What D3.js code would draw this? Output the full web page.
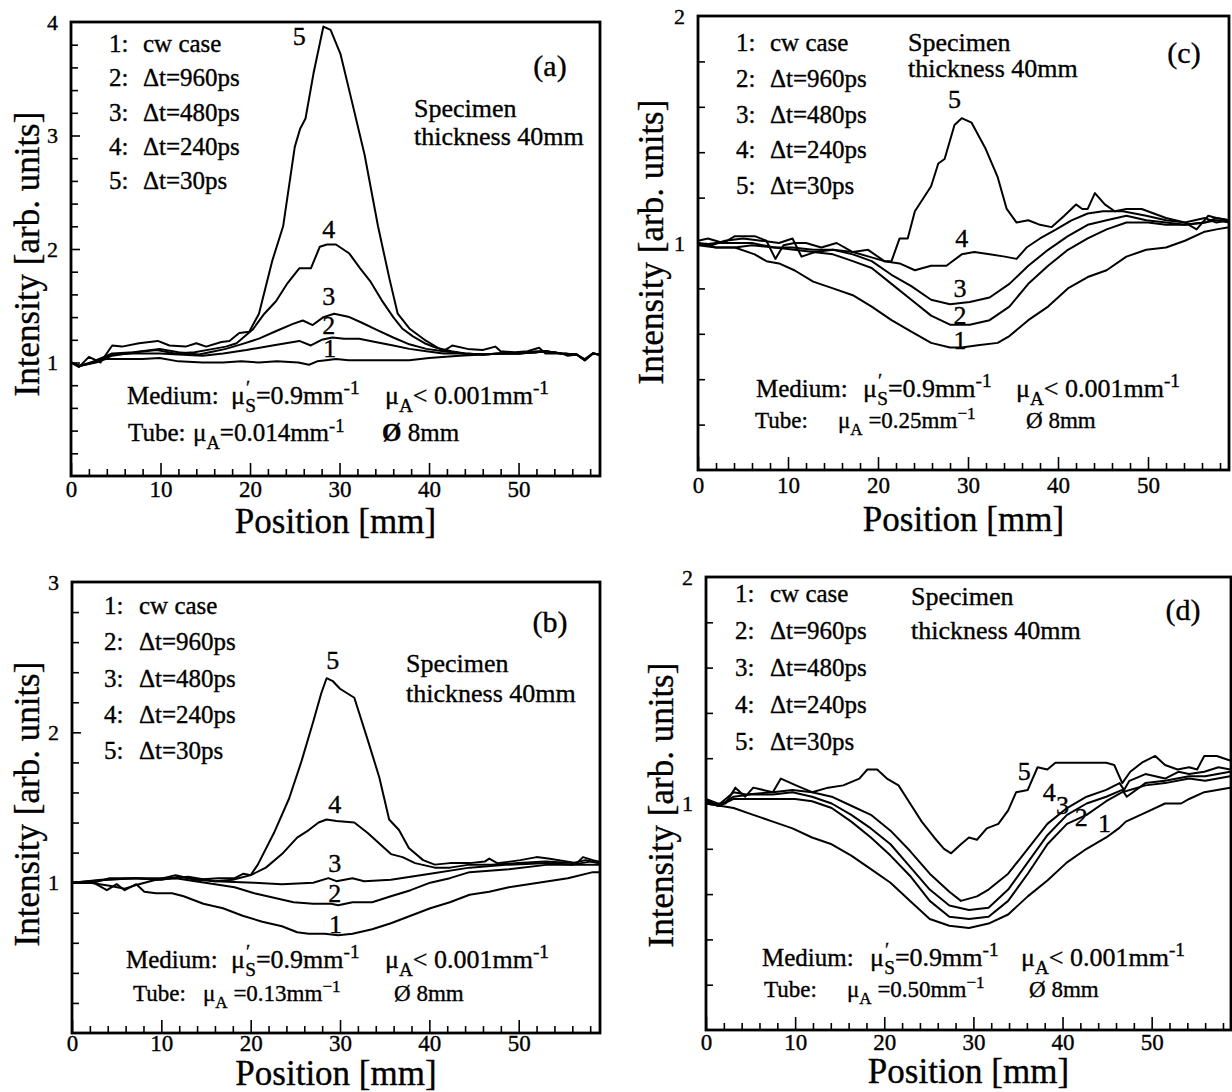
<!DOCTYPE html>
<html>
<head>
<meta charset="utf-8">
<script src="https://cdn.jsdelivr.net/npm/d3@7/dist/d3.min.js"></script>
<style>
  body { margin: 0; background: #fff; }
  svg text { font-family: "Liberation Serif", "Times New Roman", serif; fill: #000; stroke: #000; stroke-width: 0.35px; }
</style>
</head>
<body>
<svg id="chart" width="1232" height="1092"></svg>
<script>
// Intensity profiles: [position mm, intensity]
const a1 = [[0,1.0],[1,0.97],[2.5,1.0],[3.9,1.03],[6,1.03],[8,1.03],[9.9,1.04],[12,1.01],[14.7,1.0],[17,1.0],[19,1.01],[21,1.0],[23,1.01],[25.4,1.0],[26.6,0.98],[27.5,1.01],[28.5,1.02],[29.6,1.03],[31,1.02],[32.5,1.02],[35,1.02],[37.8,1.02],[40,1.04],[43.4,1.06],[46,1.07],[48,1.08],[50,1.08],[52,1.09],[53,1.1],[54.8,1.08],[56.5,1.07],[57.4,1.02],[58.3,1.08],[59,1.07]];
const a2 = [[0,1.0],[1,0.97],[2.5,1.0],[4.6,1.07],[7,1.08],[9.9,1.08],[12,1.07],[14.7,1.06],[17,1.08],[19.6,1.11],[22.5,1.15],[25.5,1.19],[26.8,1.15],[28,1.2],[29.2,1.22],[30.5,1.21],[32.2,1.21],[34,1.18],[36,1.15],[37.8,1.12],[39.7,1.1],[41.6,1.08],[43.4,1.08],[46,1.07],[48,1.08],[50,1.08],[52,1.09],[53,1.1],[54.8,1.08],[56.5,1.07],[57.4,1.03],[58.3,1.08],[59,1.07]];
const a3 = [[0,1.0],[1,0.97],[2.5,1.01],[4.6,1.08],[7,1.09],[9.9,1.12],[12,1.09],[14.3,1.07],[15.5,1.09],[17.3,1.12],[19,1.16],[21,1.21],[23,1.28],[24.8,1.34],[25.9,1.37],[27,1.33],[28.2,1.4],[29.4,1.43],[31.1,1.4],[32.5,1.35],[34.1,1.29],[36,1.22],[37.8,1.16],[39.7,1.12],[41.6,1.1],[44,1.08],[46,1.07],[48,1.08],[50,1.08],[52,1.1],[53,1.1],[54.8,1.08],[56.5,1.07],[57.4,1.02],[58.3,1.08],[59,1.07]];
const a4 = [[0,1.0],[0.9,0.97],[2.8,1.0],[4.6,1.06],[7.2,1.09],[9.6,1.11],[11.6,1.08],[13.8,1.09],[15.9,1.12],[17.3,1.14],[18.5,1.17],[20.3,1.29],[21.6,1.43],[22.9,1.54],[24.2,1.7],[25.5,1.83],[26.8,1.83],[27.8,2.02],[28.6,2.04],[29.6,2.04],[31.1,1.96],[32.3,1.83],[33.4,1.72],[34.7,1.55],[36,1.4],[37,1.3],[38.2,1.23],[39.5,1.17],[40.8,1.13],[42.5,1.1],[44,1.08],[46,1.07],[48,1.08],[50,1.08],[52,1.09],[53,1.1],[54.8,1.08],[56.5,1.07],[57.4,1.02],[58.3,1.08],[59,1.07]];
const a5 = [[0,1.0],[0.9,0.96],[2,1.05],[3.3,1.0],[4.6,1.15],[5.7,1.14],[7.6,1.17],[9.7,1.19],[11,1.15],[12.8,1.14],[14,1.17],[15.1,1.14],[16.8,1.18],[17.7,1.19],[18.8,1.26],[19.9,1.27],[21,1.43],[22.5,1.9],[23.7,2.2],[25,2.9],[25.6,3.06],[26.2,3.15],[27.1,3.55],[28.2,3.96],[29,3.93],[30.1,3.72],[31.2,3.36],[32.8,2.83],[34.3,2.2],[35.6,1.73],[36.5,1.43],[37.8,1.3],[39.5,1.2],[41,1.13],[41.6,1.1],[42.6,1.15],[44.3,1.12],[46,1.11],[47.4,1.14],[48,1.1],[49.6,1.09],[51,1.1],[52.3,1.13],[53,1.08],[54.8,1.08],[55.5,1.06],[56.5,1.07],[57.4,1.02],[58.3,1.08],[59,1.07]];

const b1 = [[0,1.0],[2.4,1.0],[3.9,0.95],[5,0.99],[5.9,0.95],[7.2,0.99],[8.1,0.94],[9.4,0.93],[11.2,0.93],[12.5,0.91],[14.7,0.86],[16.9,0.83],[19.1,0.78],[21.3,0.74],[23.5,0.71],[25.2,0.67],[26.5,0.66],[28.3,0.66],[29.8,0.65],[31.4,0.66],[33.6,0.69],[35.7,0.73],[37.9,0.78],[40.1,0.83],[42.3,0.87],[44.5,0.92],[46.7,0.94],[48.9,0.97],[51.1,0.99],[53.3,1.01],[55.5,1.03],[58.3,1.07],[59,1.07]];
const b2 = [[0,1.0],[2,1.0],[4.2,0.98],[5.9,0.96],[7.5,0.99],[9.4,1.02],[11.6,1.03],[13.8,1.01],[16,0.99],[18.2,0.97],[20.4,0.93],[22.6,0.9],[24.8,0.87],[27,0.86],[29,0.86],[29.8,0.85],[31.4,0.87],[33.6,0.87],[35.7,0.91],[37.9,0.95],[40.1,1.0],[42.3,1.03],[44.5,1.07],[48.9,1.09],[53.3,1.12],[56,1.12],[59,1.12]];
const b3 = [[0,1.0],[3.3,1.02],[7.2,1.03],[11.6,1.03],[13,1.04],[16,1.01],[20.4,1.0],[23.5,0.99],[27,1.0],[28.7,1.03],[29.6,1.01],[31.4,1.03],[32.7,1.01],[35.7,1.02],[40.1,1.06],[44.5,1.1],[48.9,1.12],[53.3,1.13],[56,1.12],[58,1.14],[59,1.13]];
const b4 = [[0,1.0],[2,1.01],[4,1.02],[7,1.03],[10,1.02],[12,1.04],[14,1.02],[16,1.01],[18,1.02],[20,1.05],[21.7,1.1],[23.5,1.19],[25.2,1.3],[26.5,1.35],[27.6,1.4],[28.5,1.42],[29.6,1.41],[31.6,1.4],[33.1,1.33],[34.4,1.26],[35.7,1.19],[37,1.17],[38.4,1.13],[40.6,1.1],[42.3,1.1],[44.5,1.12],[47,1.12],[50,1.13],[53,1.14],[56,1.13],[57.5,1.15],[59,1.13]];
const b5 = [[0,1.0],[2.4,1.0],[4.2,1.03],[7.2,1.03],[9.5,1.02],[11.6,1.05],[13.8,1.02],[16.4,1.03],[18.2,1.03],[19.2,1.06],[20,1.05],[20.8,1.12],[22.6,1.33],[24.3,1.56],[25.7,1.81],[27,2.07],[27.9,2.26],[28.5,2.36],[29.2,2.34],[30,2.29],[31.6,2.23],[33.1,1.95],[34.4,1.7],[35.5,1.42],[36.6,1.35],[37.7,1.23],[39.3,1.15],[40.6,1.12],[42.3,1.13],[44.5,1.13],[46.2,1.14],[46.7,1.16],[47.6,1.13],[49,1.14],[50.2,1.15],[52,1.17],[53.3,1.16],[55.5,1.14],[56.5,1.13],[57.2,1.17],[58.3,1.15],[59,1.14]];

const c1 = [[0,1.0],[2,0.98],[4.1,0.98],[6.3,0.95],[7.6,0.92],[9,0.91],[10.7,0.88],[12.8,0.83],[15,0.8],[17.2,0.77],[19.3,0.72],[21.5,0.66],[23.7,0.61],[25.9,0.56],[28,0.54],[29.3,0.54],[31.1,0.55],[33.3,0.56],[34.6,0.59],[36.7,0.66],[38.9,0.72],[41.1,0.8],[43.3,0.85],[45.4,0.88],[47.6,0.94],[49.8,0.97],[52,0.98],[54.1,1.01],[56.3,1.05],[57.6,1.06],[59,1.07]];
const c2 = [[0,0.99],[2,0.98],[4.1,0.98],[6,0.99],[8.5,0.98],[10.7,0.97],[12.8,0.96],[15,0.95],[17.2,0.92],[19.3,0.89],[21.5,0.82],[23.7,0.75],[25.9,0.68],[28,0.64],[30.2,0.64],[32.4,0.66],[34.6,0.72],[36.7,0.82],[38.9,0.9],[41.1,0.97],[43.3,1.02],[45.4,1.06],[47.6,1.09],[50,1.09],[52,1.08],[54.1,1.08],[56.3,1.09],[57.6,1.11],[59,1.1]];
const c3 = [[0,0.99],[2,1.0],[4.1,1.0],[6,1.0],[8.5,0.98],[10.5,0.98],[12.8,0.97],[15,0.97],[17.2,0.95],[19.3,0.92],[21.5,0.86],[23.7,0.81],[25.9,0.75],[28,0.73],[30.2,0.74],[32.4,0.76],[34.6,0.82],[36.7,0.9],[38.9,0.97],[41.1,1.03],[43.3,1.08],[45.4,1.1],[47.6,1.12],[49.8,1.1],[52,1.09],[54.1,1.08],[56.3,1.09],[57.6,1.1],[59,1.09]];
const c4 = [[0,1.0],[1.5,0.99],[3,1.01],[5,1.02],[7,1.01],[9,1.0],[10.5,1.02],[11.5,0.94],[13,0.96],[15,0.97],[17.2,0.96],[19,0.94],[20.7,0.92],[22.4,0.91],[24.1,0.88],[25.9,0.9],[27.6,0.9],[29.3,0.95],[30.7,0.96],[32.4,0.95],[34.1,0.94],[35.4,0.93],[36.5,0.98],[38,1.02],[39.8,1.06],[41.5,1.1],[43.3,1.13],[45,1.14],[47.2,1.14],[49.8,1.12],[52,1.1],[54.1,1.09],[56.3,1.11],[57.6,1.09],[59,1.1]];
const c5 = [[0,1.01],[1.1,1.02],[2.8,1.0],[4.1,1.03],[6.3,1.03],[7.6,1.01],[8.6,0.93],[9.5,0.99],[10.7,1.0],[12,1.0],[13.7,0.98],[15.4,1.0],[17.2,0.96],[18.9,0.97],[20.7,0.92],[21.5,0.92],[22.4,1.02],[23.3,1.02],[24.1,1.14],[25.9,1.25],[26.7,1.35],[27.4,1.37],[28.5,1.52],[29.3,1.55],[30.4,1.53],[31.9,1.42],[33.3,1.29],[34.3,1.15],[35.4,1.09],[36.7,1.1],[38,1.08],[39.3,1.07],[40.7,1.12],[42,1.17],[42.7,1.15],[43.3,1.15],[44.1,1.22],[45.2,1.17],[46.3,1.14],[47.6,1.15],[49.3,1.15],[52,1.11],[54.1,1.09],[55.4,1.06],[56.7,1.12],[57.6,1.11],[59,1.1]];

const d1 = [[0,1.0],[3.1,0.98],[5.3,0.95],[7.5,0.92],[9.7,0.89],[11.9,0.85],[14.1,0.82],[16.3,0.77],[18.5,0.71],[20.7,0.65],[22.9,0.57],[25.1,0.49],[27.3,0.46],[29.5,0.45],[31.7,0.47],[33.9,0.51],[36.1,0.59],[38.3,0.66],[40.5,0.74],[42.7,0.8],[44.9,0.85],[46.3,0.89],[47.1,0.92],[49.3,0.96],[51.5,1.0],[53.3,1.0],[54.2,1.02],[55.9,1.05],[58.8,1.07]];
const d2 = [[0,1.0],[1.5,0.99],[3.1,1.02],[5,1.02],[7.5,1.02],[10,1.02],[11.9,1.01],[14.1,0.98],[16.3,0.92],[18.5,0.85],[20.7,0.77],[22.9,0.68],[25.1,0.57],[27.3,0.5],[29.5,0.49],[31.7,0.5],[33.9,0.57],[36.1,0.69],[38.3,0.82],[40.5,0.91],[42.7,0.95],[44.9,1.01],[46.7,1.05],[49.3,1.08],[51.5,1.09],[54.2,1.11],[56,1.1],[58.8,1.12]];
const d3v = [[0,1.01],[1.5,0.99],[3.1,1.03],[5,1.04],[7.5,1.04],[9.7,1.05],[11.9,1.03],[14.1,1.0],[16.3,0.95],[18.5,0.89],[20.7,0.82],[22.9,0.72],[25.1,0.62],[27.3,0.55],[29.5,0.53],[31.7,0.54],[33.9,0.62],[36.1,0.74],[38.3,0.86],[40.5,0.95],[42.7,1.0],[44.9,1.03],[46.7,1.06],[47.2,1.03],[49.3,1.09],[51.5,1.1],[54.2,1.12],[56,1.12],[58.8,1.14]];
const d4 = [[0,1.02],[1.3,0.99],[3.1,1.05],[4.5,1.04],[7.5,1.05],[9.7,1.06],[11.9,1.05],[14.1,1.03],[16.3,0.99],[18.5,0.95],[20.7,0.88],[22.9,0.79],[25.1,0.69],[27.3,0.61],[28.6,0.57],[30.4,0.59],[31.7,0.62],[33.9,0.69],[36.1,0.8],[38.3,0.91],[40.5,0.98],[42.7,1.03],[44.9,1.06],[46.4,1.09],[46.9,1.06],[47.5,1.1],[49.3,1.13],[51.5,1.11],[53,1.14],[54.2,1.13],[55.9,1.14],[57.5,1.16],[58.8,1.15]];
const d5 = [[0,1.02],[1.3,1.0],[2.2,1.0],[3.3,1.07],[4.4,1.03],[5.3,1.07],[7.5,1.05],[8.4,1.11],[10.1,1.08],[11.9,1.05],[13.7,1.07],[15.4,1.08],[17.2,1.11],[18.1,1.15],[19.2,1.15],[20.3,1.11],[21.6,1.08],[22.9,1.0],[24.2,0.92],[25.6,0.85],[26.7,0.8],[27.5,0.78],[28.6,0.82],[29.5,0.85],[30.4,0.84],[31.5,0.89],[32.8,0.91],[33.9,0.97],[34.8,1.05],[36.1,1.06],[37.2,1.16],[38.3,1.15],[39.2,1.18],[40.5,1.18],[42.7,1.18],[44.9,1.18],[45.8,1.17],[46.7,1.09],[47.6,1.14],[48.9,1.18],[50.4,1.21],[51.5,1.17],[52.9,1.15],[54.2,1.16],[55.1,1.15],[55.9,1.21],[57.3,1.21],[58.8,1.19]];

// curve number labels: [position mm, intensity]
const aLabels = [[28.9,1.12],[28.8,1.33],[28.8,1.58],[28.8,2.17],[25.5,3.87]];
const bLabels = [[29.5,0.72],[29.4,0.93],[29.4,1.13],[29.4,1.52],[29.2,2.48]];
const cLabels = [[29.1,0.57],[29.1,0.68],[29.1,0.8],[29.3,1.02],[28.5,1.63]];
const dLabels = [[44.7,0.91],[42.1,0.94],[40.0,0.99],[38.5,1.05],[35.7,1.14]];

const legendText = ["cw case", "\u0394t=960ps", "\u0394t=480ps", "\u0394t=240ps", "\u0394t=30ps"];
const xTickValues = [0, 2, 4, 6, 8, 10, 12, 14, 16, 18, 20, 22, 24, 26, 28, 30, 32, 34, 36, 38, 40, 42, 44, 46, 48, 50, 52, 54, 56, 58];
const xTickLabels = [0, 10, 20, 30, 40, 50];
const tubeMuA = { a: "=0.014mm", b: " =0.13mm", c: " =0.25mm", d: " =0.50mm" };

const panels = [
  { key: "a", x0: 71, x1: 600, top: 22, bot: 476, ymax: 4, xmax: 59.1, tickOff: 21, titleY: 533,
    curves: [a1, a2, a3, a4, a5], labels: aLabels,
    leg: { nx: 109, tx: 143, y0: 52, dy: 34.3 }, tag: [550, 65],
    spec: { x: 414, y1: 117, y2: 145 },
    med: { x: 127, mu1: 231, mu2: 385, y: 404 },
    tube: { x: 128, mu: 193, phi: 382, y: 441, size: 25, minus: "-" },
    ylab: [27, 254] },
  { key: "c", x0: 698, x1: 1229, top: 16, bot: 470, ymax: 2, xmax: 59, tickOff: 23, titleY: 531,
    curves: [c1, c2, c3, c4, c5], labels: cLabels,
    leg: { nx: 736, tx: 770, y0: 51, dy: 35.8 }, tag: [1184, 52],
    spec: { x: 908, y1: 51, y2: 77 },
    med: { x: 756, mu1: 863, mu2: 1016, y: 397 },
    tube: { x: 755, mu: 838, phi: 1026, y: 428, size: 23, minus: "\u2212" },
    ylab: [651, 242] },
  { key: "b", x0: 72, x1: 600, top: 582, bot: 1033, ymax: 3, xmax: 59.1, tickOff: 18, titleY: 1085,
    curves: [b1, b2, b3, b4, b5], labels: bLabels,
    leg: { nx: 104, tx: 139, y0: 614, dy: 36.3 }, tag: [550, 621],
    spec: { x: 406, y1: 672, y2: 702 },
    med: { x: 126, mu1: 231, mu2: 385, y: 968 },
    tube: { x: 133, mu: 203, phi: 394, y: 1001, size: 23, minus: "\u2212" },
    ylab: [27, 804] },
  { key: "d", x0: 706, x1: 1231, top: 577, bot: 1030, ymax: 2, xmax: 58.9, tickOff: 20, titleY: 1083,
    curves: [d1, d2, d3v, d4, d5], labels: dLabels,
    leg: { nx: 735, tx: 770, y0: 602, dy: 37 }, tag: [1183, 609],
    spec: { x: 911, y1: 605, y2: 639 },
    med: { x: 762, mu1: 870, mu2: 1021, y: 966 },
    tube: { x: 764, mu: 847, phi: 1029, y: 997, size: 23, minus: "\u2212" },
    ylab: [661, 805] }
];

const svg = d3.select("#chart");

// text with sub/superscript parts: [string, "sub"|"sup"|null, dx]
function rich(g, x, y, parts, size) {
  const t = g.append("text").attr("x", x).attr("y", y).style("font-size", size + "px");
  let shift = 0;
  parts.forEach(([s, kind, dx]) => {
    const target = kind === "sub" ? 0.3 * size : kind === "sup" ? -0.38 * size : 0;
    const ts = t.append("tspan").attr("dy", target - shift).text(s);
    if (dx) ts.attr("dx", dx);
    if (kind) ts.style("font-size", (size * 0.74) + "px");
    shift = target;
  });
  return t;
}

panels.forEach((p, pi) => {
  const g = svg.append("g");
  const x = d3.scaleLinear().domain([0, p.xmax]).range([p.x0, p.x1]);
  const y = d3.scaleLinear().domain([0, p.ymax]).range([p.bot, p.top]);

  g.append("clipPath").attr("id", "clip" + pi).append("rect")
    .attr("x", p.x0).attr("y", p.top).attr("width", p.x1 - p.x0).attr("height", p.bot - p.top);

  // x axis, inward ticks
  const xAxis = d3.axisBottom(x).tickValues(xTickValues).tickSize(-7).tickPadding(p.tickOff - 16)
    .tickFormat(d => xTickLabels.includes(d) ? d : "");
  const gx = g.append("g").attr("transform", `translate(0,${p.bot})`).call(xAxis);
  gx.select(".domain").remove();
  gx.selectAll(".tick line").attr("stroke", "#000").attr("stroke-width", 1.6)
    .attr("y2", d => d % 10 === 0 ? -13 : -7);
  gx.selectAll(".tick text").style("font-size", "23px").attr("fill", "#000");

  // y axis, inward ticks every 0.2
  const yTicks = [];
  for (let i = 1; i <= p.ymax * 5; i++) yTicks.push(+(i * 0.2).toFixed(1));
  const yAxis = d3.axisLeft(y).tickValues(yTicks).tickSize(-7).tickPadding(13)
    .tickFormat(d => Number.isInteger(d) ? d : "");
  const gy = g.append("g").attr("transform", `translate(${p.x0},0)`).call(yAxis);
  gy.select(".domain").remove();
  gy.selectAll(".tick line").attr("stroke", "#000").attr("stroke-width", 1.6)
    .attr("x2", d => d === p.ymax ? 0 : (Number.isInteger(d) ? 9 : 7));
  gy.selectAll(".tick text").style("font-size", "22px").attr("fill", "#000");

  // curves
  const line = d3.line().x(d => x(d[0])).y(d => y(d[1]));
  g.append("g").attr("clip-path", `url(#clip${pi})`)
    .selectAll("path").data(p.curves).join("path")
    .attr("d", line).attr("fill", "none").attr("stroke", "#000")
    .attr("stroke-width", 2).attr("stroke-linejoin", "round");

  // frame
  g.append("rect").attr("x", p.x0).attr("y", p.top)
    .attr("width", p.x1 - p.x0).attr("height", p.bot - p.top)
    .attr("fill", "none").attr("stroke", "#000").attr("stroke-width", 2.8);

  // curve numbers
  g.selectAll("text.num").data(p.labels).join("text").attr("class", "num")
    .attr("x", d => x(d[0])).attr("y", d => y(d[1]))
    .attr("text-anchor", "middle").attr("dominant-baseline", "central")
    .style("font-size", "26px").text((d, i) => i + 1);

  // legend
  legendText.forEach((s, i) => {
    const yy = p.leg.y0 + i * p.leg.dy;
    g.append("text").attr("x", p.leg.nx).attr("y", yy).style("font-size", "25px").text((i + 1) + ":");
    g.append("text").attr("x", p.leg.tx).attr("y", yy).style("font-size", "25px").text(s);
  });

  g.append("text").attr("x", p.tag[0]).attr("y", p.tag[1]).attr("text-anchor", "middle")
    .attr("dominant-baseline", "central").style("font-size", "30px").text(`(${p.key})`);

  g.append("text").attr("x", p.spec.x).attr("y", p.spec.y1).style("font-size", "26px").text("Specimen");
  g.append("text").attr("x", p.spec.x).attr("y", p.spec.y2).style("font-size", "26px").text("thickness 40mm");

  // medium / tube annotations
  g.append("text").attr("x", p.med.x).attr("y", p.med.y).style("font-size", "25px").text("Medium:");
  rich(g, p.med.mu1, p.med.y, [["\u03bc", null], ["\u2032", "sup", 1], ["S", "sub", -5], ["=0.9mm", null], ["-1", "sup"]], 26);
  rich(g, p.med.mu2, p.med.y, [["\u03bc", null], ["A", "sub"], ["< 0.001mm", null], ["-1", "sup"]], 26);

  const ts = p.tube.size;
  g.append("text").attr("x", p.tube.x).attr("y", p.tube.y).style("font-size", ts + "px").text("Tube:");
  rich(g, p.tube.mu, p.tube.y, [["\u03bc", null], ["A", "sub"], [tubeMuA[p.key], null], [p.tube.minus + "1", "sup"]], ts);
  const phi = g.append("text").attr("x", p.tube.phi).attr("y", p.tube.y).style("font-size", ts + "px");
  phi.append("tspan").style("font-weight", p.key === "a" ? "bold" : "normal").text("\u00d8");
  phi.append("tspan").text(" 8mm");

  // axis titles
  g.append("text").attr("x", (p.x0 + p.x1) / 2).attr("y", p.titleY).attr("text-anchor", "middle")
    .style("font-size", "35px").text("Position [mm]");
  g.append("text").attr("transform", `translate(${p.ylab[0]},${p.ylab[1]}) rotate(-90)`)
    .attr("text-anchor", "middle").attr("dominant-baseline", "central")
    .style("font-size", "35px").text("Intensity [arb. units]");
});
</script>
</body>
</html>
